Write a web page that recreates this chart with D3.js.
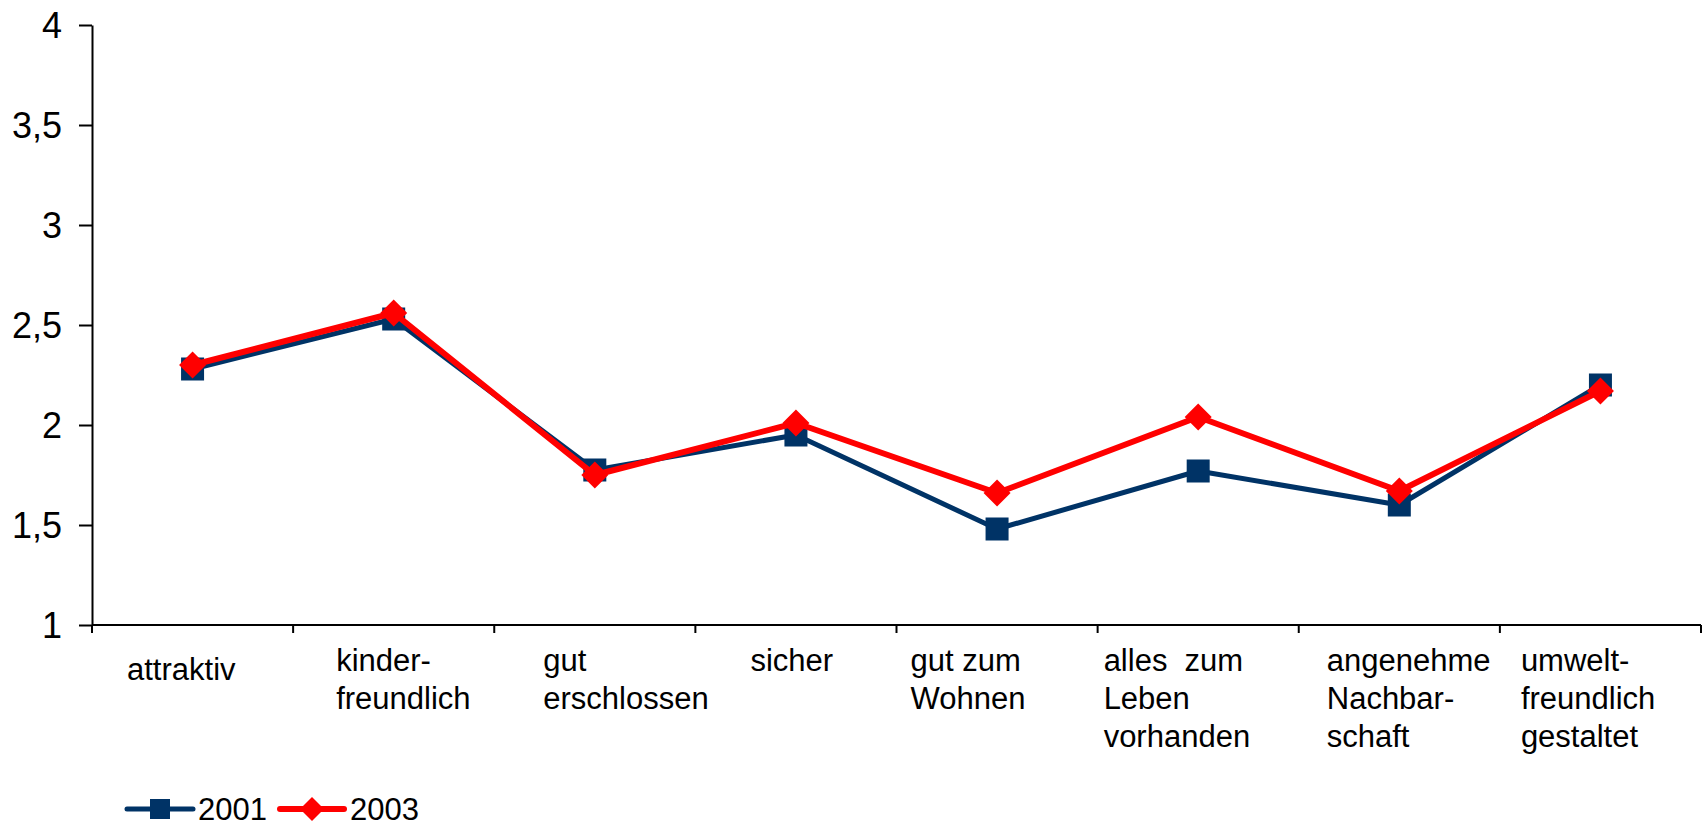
<!DOCTYPE html>
<html>
<head>
<meta charset="utf-8">
<script src="https://cdn.jsdelivr.net/npm/d3@7"></script>
<style>
  html, body { margin: 0; padding: 0; background: #fff; }
  svg { display: block; }
  text { font-family: "Liberation Sans", Arial, sans-serif; fill: #000; }
</style>
</head>
<body>
<div id="chart"></div>
<script>
const categories = [
  ['attraktiv'],
  ['kinder-', 'freundlich'],
  ['gut', 'erschlossen'],
  ['sicher'],
  ['gut zum', 'Wohnen'],
  ['alles  zum', 'Leben', 'vorhanden'],
  ['angenehme', 'Nachbar-', 'schaft'],
  ['umwelt-', 'freundlich', 'gestaltet']
];
const values2001 = [2.28, 2.53, 1.775, 1.95, 1.48, 1.77, 1.60, 2.20];
const values2003 = [2.30, 2.56, 1.75, 2.01, 1.66, 2.04, 1.67, 2.17];
const yTicks = [1, 1.5, 2, 2.5, 3, 3.5, 4];
const seriesNames = ['2001', '2003'];

// label placement inside each band (left edge offset from band start, extra dy)
const labelDx = [35, 43, 49, 55, 14, 6, 28, 21];
const labelDy = [9, 0, 0, 0, 0, 0, 0, 0];

function draw() {
  const width = 1706, height = 826;
  const left = 92, right = 1701, top = 25, bottom = 625;

  const svg = d3.select('#chart').append('svg')
    .attr('width', width)
    .attr('height', height);

  const keys = categories.map((c, i) => i);

  const x = d3.scaleBand()
    .domain(keys)
    .range([left, right])
    .padding(0);

  const y = d3.scaleLinear()
    .domain([1, 4])
    .range([bottom, top]);

  const fmt = d => String(d).replace('.', ',');

  // Y axis
  const yAxis = svg.append('g')
    .attr('transform', `translate(${left},0)`)
    .call(d3.axisLeft(y).tickValues(yTicks).tickFormat(fmt)
      .tickSize(13).tickSizeOuter(0).tickPadding(17));
  yAxis.selectAll('path, line').attr('stroke', '#000').attr('stroke-width', 2);
  yAxis.selectAll('text')
    .style('font-size', '36px')
    .attr('dy', '0.36em');

  // X axis: baseline plus ticks at band boundaries
  const xAxis = svg.append('g');
  xAxis.append('line')
    .attr('x1', left).attr('x2', right)
    .attr('y1', bottom).attr('y2', bottom)
    .attr('stroke', '#000').attr('stroke-width', 2);
  const boundaries = keys.map(k => x(k)).concat([x.range()[1]]);
  xAxis.selectAll('line.tick')
    .data(boundaries)
    .join('line')
    .attr('class', 'tick')
    .attr('x1', d => d).attr('x2', d => d)
    .attr('y1', bottom).attr('y2', bottom + 8)
    .attr('stroke', '#000').attr('stroke-width', 2);

  // Category labels
  const labels = svg.append('g');
  categories.forEach((lines, i) => {
    const t = labels.append('text')
      .attr('x', x(i) + labelDx[i])
      .attr('y', 671 + labelDy[i])
      .style('font-size', '31px');
    lines.forEach((ln, j) => {
      t.append('tspan')
        .attr('x', x(i) + labelDx[i])
        .attr('dy', j === 0 ? 0 : 38)
        .attr('xml:space', 'preserve')
        .style('white-space', 'pre')
        .text(ln);
    });
  });

  const cx = i => x(i) + x.bandwidth() / 2;
  const line = d3.line().x((d, i) => cx(i)).y(d => y(d));

  const series = [
    { name: seriesNames[0], values: values2001, color: '#003366', width: 5, shape: 'square' },
    { name: seriesNames[1], values: values2003, color: '#ff0000', width: 6, shape: 'diamond' }
  ];

  const sq = 23, dm = 13.5;
  function marker(g, shape, color, px, py, s) {
    if (shape === 'square') {
      g.append('rect')
        .attr('x', px - s / 2).attr('y', py - s / 2)
        .attr('width', s).attr('height', s)
        .attr('fill', color);
    } else {
      g.append('path')
        .attr('d', `M${px},${py - s}L${px + s},${py}L${px},${py + s}L${px - s},${py}Z`)
        .attr('fill', color);
    }
  }

  series.forEach(s => {
    const g = svg.append('g');
    g.append('path')
      .datum(s.values)
      .attr('d', line)
      .attr('fill', 'none')
      .attr('stroke', s.color)
      .attr('stroke-width', s.width)
      .attr('stroke-linejoin', 'round');
    s.values.forEach((v, i) => {
      marker(g, s.shape, s.color, cx(i), y(v), s.shape === 'square' ? sq : dm);
    });
  });

  // Legend
  const legendY = 809;
  const legendItems = [
    { x1: 127, x2: 193, tx: 198 },
    { x1: 280, x2: 344, tx: 350 }
  ];
  series.forEach((s, i) => {
    const it = legendItems[i];
    const g = svg.append('g');
    g.append('line')
      .attr('x1', it.x1).attr('x2', it.x2)
      .attr('y1', legendY).attr('y2', legendY)
      .attr('stroke', s.color)
      .attr('stroke-width', s.width)
      .attr('stroke-linecap', 'round');
    marker(g, s.shape, s.color, (it.x1 + it.x2) / 2, legendY, s.shape === 'square' ? 20 : 12);
    g.append('text')
      .attr('x', it.tx)
      .attr('y', legendY + 11)
      .style('font-size', '31px')
      .text(s.name);
  });
}

draw();
</script>
</body>
</html>
